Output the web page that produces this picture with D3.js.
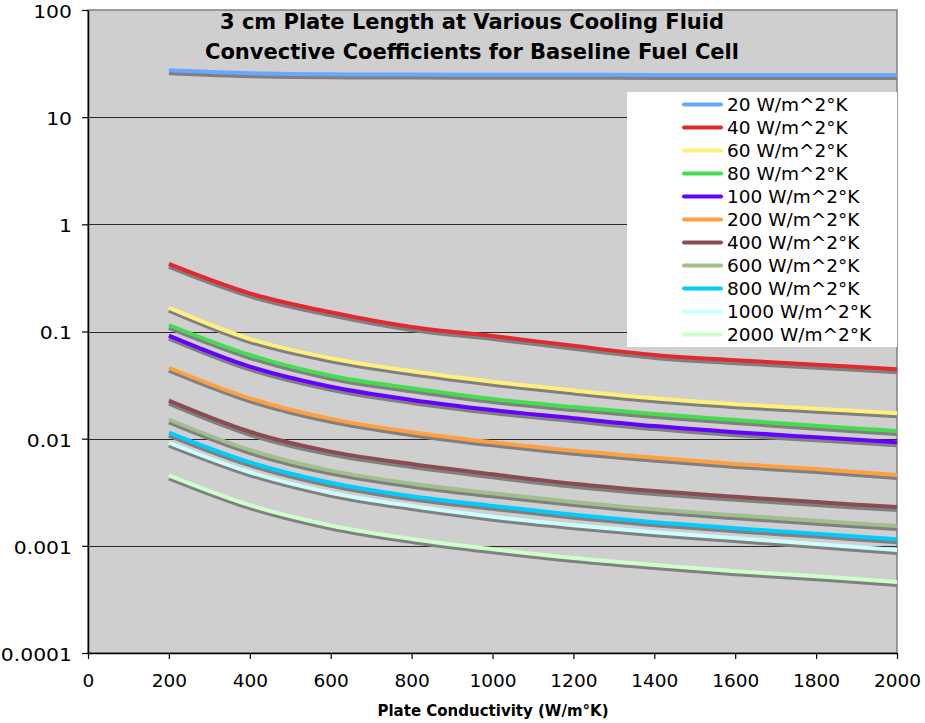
<!DOCTYPE html>
<html>
<head>
<meta charset="utf-8">
<script src="https://cdn.jsdelivr.net/npm/d3@7/dist/d3.min.js"></script>
<style>
  html, body { margin: 0; padding: 0; background: #ffffff; }
  svg { display: block; }
</style>
</head>
<body>
<svg id="chart" width="925" height="723"></svg>
<script>
// ---- data ----
const titleLines = ["3 cm Plate Length at Various Cooling Fluid", "Convective Coefficients  for Baseline Fuel Cell"];
const xLabel = "Plate Conductivity (W/m\u00B0K)";
const conductivity = [200, 400, 600, 800, 1000, 1200, 1400, 1600, 1800, 2000];
const seriesNames = ["20 W/m^2\u00B0K", "40 W/m^2\u00B0K", "60 W/m^2\u00B0K", "80 W/m^2\u00B0K", "100 W/m^2\u00B0K",
  "200 W/m^2\u00B0K", "400 W/m^2\u00B0K", "600 W/m^2\u00B0K", "800 W/m^2\u00B0K", "1000 W/m^2\u00B0K", "2000 W/m^2\u00B0K"];
const seriesColors = ["#66a8ff", "#e02a30", "#fff07e", "#44dd50", "#6600ff", "#ffa040", "#8a4c52", "#a0bf8c", "#00ccff", "#ccffff", "#ccffcc"];
const h20   = [27.4, 25.7, 25.1, 25.0, 24.9, 24.9, 24.8, 24.8, 24.7, 24.7];
const h40   = [0.427, 0.227, 0.151, 0.110, 0.0908, 0.0735, 0.0604, 0.0540, 0.0490, 0.0444];
const h60   = [0.167, 0.0851, 0.0562, 0.0425, 0.0340, 0.0282, 0.0238, 0.0210, 0.0190, 0.0173];
const h80   = [0.115, 0.0604, 0.0387, 0.0295, 0.0234, 0.0197, 0.0170, 0.0149, 0.0132, 0.0118];
const h100  = [0.0914, 0.0470, 0.0305, 0.0230, 0.0185, 0.0155, 0.0131, 0.0115, 0.0103, 0.00925];
const h200  = [0.0459, 0.0238, 0.0153, 0.0115, 0.00925, 0.0077, 0.00664, 0.0058, 0.0052, 0.00458];
const h400  = [0.0226, 0.0116, 0.00757, 0.0058, 0.00465, 0.0038, 0.00325, 0.00287, 0.00256, 0.00230];
const h600  = [0.0151, 0.00784, 0.00503, 0.0038, 0.00309, 0.00257, 0.00219, 0.00193, 0.00171, 0.00153];
const h800  = [0.0114, 0.00602, 0.00388, 0.0029, 0.00236, 0.00195, 0.00166, 0.00146, 0.00130, 0.00115];
const h1000 = [0.00916, 0.00486, 0.00313, 0.00235, 0.00187, 0.00156, 0.00134, 0.00118, 0.00104, 0.000915];
const h2000 = [0.00455, 0.0024, 0.00155, 0.00116, 0.00093, 0.00077, 0.000663, 0.00058, 0.00052, 0.00046];
const seriesValues = [h20, h40, h60, h80, h100, h200, h400, h600, h800, h1000, h2000];
const xTicks = [0, 200, 400, 600, 800, 1000, 1200, 1400, 1600, 1800, 2000];
const yTicks = [0.0001, 0.001, 0.01, 0.1, 1, 10, 100];
const yTickLabels = ["0.0001", "0.001", "0.01", "0.1", "1", "10", "100"];

// ---- layout ----
const svg = d3.select("#chart");
const plot = { left: 88, right: 897, top: 10, bottom: 653 };
const font = "'DejaVu Sans', Verdana, sans-serif";
const yStretch = 1.1;

const x = d3.scaleLinear().domain([0, 2000]).range([plot.left, plot.right]);
const y = d3.scaleLog().domain([0.0001, 100]).range([plot.bottom, plot.top]);

// plot background
svg.append("rect")
  .attr("x", plot.left).attr("y", plot.top)
  .attr("width", plot.right - plot.left).attr("height", plot.bottom - plot.top)
  .attr("fill", "#cfcfcf").attr("stroke", "#808080").attr("stroke-width", 1.5);

// gridlines
svg.append("g").selectAll("line").data(yTicks.slice(1, -1)).join("line")
  .attr("x1", plot.left).attr("x2", plot.right)
  .attr("y1", d => Math.round(y(d)) + 0.5).attr("y2", d => Math.round(y(d)) + 0.5)
  .attr("stroke", "#2a2a2a").attr("stroke-width", 1.2);

// axes
const yAxis = d3.axisLeft(y).tickValues(yTicks)
  .tickFormat((d, i) => yTickLabels[i]).tickSizeInner(6).tickSizeOuter(0).tickPadding(10);
const gy = svg.append("g").attr("transform", `translate(${plot.left},0)`).call(yAxis);
const xAxis = d3.axisBottom(x).tickValues(xTicks).tickFormat(d3.format("d"))
  .tickSizeInner(6).tickSizeOuter(0).tickPadding(15);
const gx = svg.append("g").attr("transform", `translate(0,${plot.bottom})`).call(xAxis);
[gx, gy].forEach(g => {
  g.select(".domain").attr("stroke", "#000").attr("stroke-width", 1.5);
  g.selectAll(".tick line").attr("stroke", "#000").attr("stroke-width", 1.2);
  g.selectAll(".tick text").attr("font-family", font).attr("font-size", 18.5).attr("fill", "#000");
});
gx.selectAll(".tick text").attr("dy", "0.71em");
gy.selectAll(".tick text")
  .attr("x", -16 / yStretch).attr("dy", "0.4em")
  .attr("transform", `scale(${yStretch},1)`);

// lines
const line = d3.line()
  .x((d, i) => x(conductivity[i]))
  .y(d => y(d))
  .curve(d3.curveCatmullRom.alpha(0.5));

const series = svg.append("g");
seriesValues.forEach((vals, k) => {
  const g = series.append("g");
  g.append("path").datum(vals)
    .attr("d", line).attr("fill", "none")
    .attr("stroke", "#808080").attr("stroke-width", 4)
    .attr("transform", "translate(0,3)");
  g.append("path").datum(vals)
    .attr("d", line).attr("fill", "none")
    .attr("stroke", seriesColors[k]).attr("stroke-width", 4);
});

// title
const title = svg.append("text").attr("text-anchor", "middle")
  .attr("font-family", font).attr("font-size", 21).attr("font-weight", "bold").attr("fill", "#000");
titleLines.forEach((t, i) => {
  title.append("tspan").attr("x", 472).attr("y", 28.5 + i * 30.5).text(t);
});

// x axis label
svg.append("text").attr("x", 493).attr("y", 715.5).attr("text-anchor", "middle")
  .attr("font-family", font).attr("font-size", 15).attr("font-weight", "bold").attr("fill", "#000")
  .text(xLabel);

// legend
const legend = svg.append("g");
legend.append("rect").attr("x", 627).attr("y", 92).attr("width", 270).attr("height", 255).attr("fill", "#ffffff");
const items = legend.selectAll("g.item").data(seriesNames).join("g").attr("class", "item")
  .attr("transform", (d, i) => `translate(0,${104.5 + i * 23})`);
items.append("line").attr("x1", 684).attr("x2", 721).attr("y1", 0).attr("y2", 0)
  .attr("stroke", (d, i) => seriesColors[i]).attr("stroke-width", 4).attr("stroke-linecap", "round");
items.append("text").attr("x", 727).attr("y", 0).attr("dy", "0.36em")
  .attr("font-family", font).attr("font-size", 18.5).attr("fill", "#000")
  .text(d => d);
</script>
</body>
</html>
